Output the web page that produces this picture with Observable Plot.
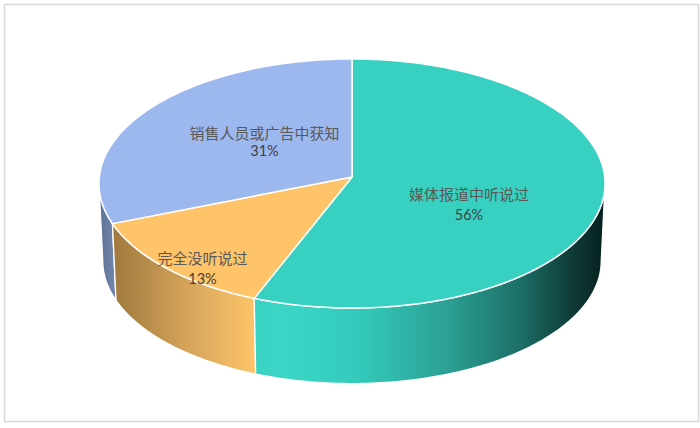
<!DOCTYPE html>
<html>
<head>
<meta charset="utf-8">
<style>html,body{margin:0;padding:0;background:#fff}svg{display:block}</style>
<script src="https://cdn.jsdelivr.net/npm/d3@7"></script>
<script src="https://cdn.jsdelivr.net/npm/@observablehq/plot@0.6"></script>
</head>
<body>
<div id="chart"></div>
<script>
// Data
const categories = ["媒体报道中听说过", "完全没听说过", "销售人员或广告中获知"];
const shares = [56, 13, 31];
const topColors = ["#38d0c0", "#ffc469", "#9db8ee"];

// Wall shading, one gradient per slice (left to right)
const wallStops = [
  [[0, "#39d2c2"], [0.08, "#3dd6c6"], [0.3, "#33cabb"], [0.56, "#2b9e92"], [0.76, "#1c6e66"], [0.9, "#0f3d39"], [1, "#06201e"]],
  [[0, "#a0793f"], [0.6, "#dcaa5e"], [1, "#ffc469"]],
  [[0, "#5e7198"], [1, "#7487ad"]]
];

// Pie geometry: a tilted disc seen in perspective
const cx = 351.5, cy = 176.5, sx = 252.7, sy = 124.2, k = 0.0522;
const depth = 77.5, bottomScale = 0.985;
const project = (deg, r, z) => {
  const a = deg * Math.PI / 180, X = r * Math.sin(a), Y = -r * Math.cos(a), w = 1 - k * Y;
  const s = z ? bottomScale : 1;
  return {x: cx + X * sx * s / w, y: cy + (z ? depth : 0) + Y * sy * s / w};
};
const arc = (a0, a1, z) => {
  const n = Math.max(2, Math.ceil(Math.abs(a1 - a0)));
  return d3.range(n + 1).map((i) => project(a0 + (a1 - a0) * i / n, 1, z));
};

let acc = 0;
const slices = shares.map((v, i) => {
  const a0 = acc * 3.6; acc += v;
  return {i, a0, a1: acc * 3.6};
});

const tangent = Math.asin(k) * 180 / Math.PI;
const tops = slices.flatMap((s) => {
  const pts = [project(0, 0, false), ...arc(s.a0, s.a1, false), project(0, 0, false)];
  return pts.map((p) => ({...p, id: s.i}));
});
const walls = (i) => {
  const s = slices[i];
  const a0 = Math.max(s.a0, 90 + tangent), a1 = Math.min(s.a1, 270 - tangent);
  const top = arc(a0, a1, false), bottom = arc(a1, a0, true);
  return [...top, ...bottom, top[0]];
};

const defs = () => {
  const d = d3.create("svg:defs");
  wallStops.forEach((stops, i) => {
    const g = d.append("linearGradient").attr("id", "wall" + i).attr("x1", 0).attr("x2", 1).attr("y1", 0).attr("y2", 0);
    stops.forEach(([o, c]) => g.append("stop").attr("offset", o).attr("stop-color", c));
  });
  return d.node();
};

// Label anchors
const labelAt = [[468.5, 195, 215], [202, 259, 279], [264, 133.5, 151]];
const cjk = "'Noto Sans CJK SC', sans-serif";
const names = categories.map((c, i) => ({c, x: labelAt[i][0], y: labelAt[i][1]}));
const pcts = shares.map((v, i) => ({c: v + "%", x: labelAt[i][0], y: labelAt[i][2]}));

const chart = Plot.plot({
  width: 700, height: 428,
  margin: 0,
  style: {background: "#fff", overflow: "visible"},
  x: {axis: null, domain: [0, 700]},
  y: {axis: null, domain: [428, 0]},
  marks: [
    defs,
    Plot.frame({stroke: "#d9d9d9", strokeWidth: 1.5, insetLeft: 4, insetTop: 4, insetRight: 2, insetBottom: 7}),
    ...[2, 1, 0].map((i) => Plot.line(walls(i), {x: "x", y: "y", fill: `url(#wall${i})`, stroke: "#fff", strokeWidth: 1.3})),
    ...[0, 1, 2].map((i) => Plot.line(tops.filter((d) => d.id === i), {x: "x", y: "y", fill: topColors[i], stroke: "#fff", strokeWidth: 1.5})),
    Plot.text(names, {x: "x", y: "y", text: "c", fontFamily: cjk, fontSize: 15, fill: "#595959"}),
    Plot.text(pcts, {x: "x", y: "y", text: "c", fontFamily: "Lato, sans-serif", fontSize: 14.5, fill: "#404040"})
  ]
});
document.getElementById("chart").append(chart);
</script>
</body>
</html>
